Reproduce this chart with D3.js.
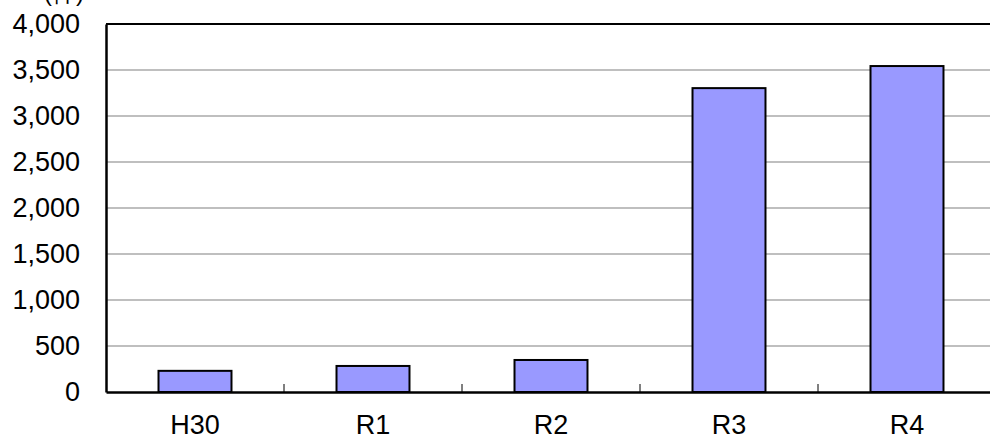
<!DOCTYPE html>
<html>
<head>
<meta charset="utf-8">
<script src="https://cdn.jsdelivr.net/npm/d3@7"></script>
<style>
  body { margin: 0; background: #fff; }
  text { font-family: "Liberation Sans", Arial, sans-serif; fill: #000; }
</style>
</head>
<body>
<div id="chart"></div>
<script>
const categories = ['H30', 'R1', 'R2', 'R3', 'R4'];
const counts = [230, 283, 348, 3303, 3543];
const yTicks = [0, 500, 1000, 1500, 2000, 2500, 3000, 3500, 4000];
const unitLabel = '(件)';

const width = 990, height = 441;
const margin = { top: 24, left: 106, bottom: 49 };
const plotWidth = 890;

const svg = d3.select('#chart').append('svg')
    .attr('width', width)
    .attr('height', height);

const x = d3.scaleBand()
    .domain(categories)
    .range([margin.left, margin.left + plotWidth])
    .paddingInner(0.59)
    .paddingOuter(0.295);

const y = d3.scaleLinear()
    .domain([0, 4000])
    .range([height - margin.bottom, margin.top]);

// gridlines
svg.append('g')
    .selectAll('line')
    .data(yTicks.filter(d => d > 0 && d < 4000))
    .enter().append('line')
    .attr('x1', margin.left).attr('x2', width)
    .attr('y1', d => y(d)).attr('y2', d => y(d))
    .attr('stroke', '#808080')
    .attr('stroke-width', 1.2);

// top border
svg.append('line')
    .attr('x1', margin.left).attr('x2', width)
    .attr('y1', y(4000)).attr('y2', y(4000))
    .attr('stroke', '#000').attr('stroke-width', 2);

// bars
svg.append('g')
    .selectAll('rect')
    .data(counts)
    .enter().append('rect')
    .attr('x', (d, i) => x(categories[i]))
    .attr('y', d => y(d))
    .attr('width', x.bandwidth())
    .attr('height', d => y(0) - y(d))
    .attr('fill', '#9999ff')
    .attr('stroke', '#000')
    .attr('stroke-width', 2);

// y axis
const yAxis = svg.append('g')
    .attr('transform', `translate(${margin.left},0)`)
    .call(d3.axisLeft(y).tickValues(yTicks).tickFormat(d3.format(',')).tickSize(0).tickPadding(26));
yAxis.select('.domain').attr('stroke', '#000').attr('stroke-width', 2.5);
yAxis.selectAll('text').style('font-size', '27px');

// x axis, small ticks between categories
const xAxis = svg.append('g')
    .attr('transform', `translate(0,${y(0)})`)
    .call(d3.axisBottom(x).tickSize(0).tickPadding(23));
xAxis.select('.domain').attr('stroke', '#000').attr('stroke-width', 2.5);
xAxis.selectAll('text').style('font-size', '27px');
xAxis.selectAll('.sep')
    .data(categories.slice(1))
    .enter().append('line')
    .attr('class', 'sep')
    .attr('x1', d => x(d) - (x.step() - x.bandwidth()) / 2)
    .attr('x2', d => x(d) - (x.step() - x.bandwidth()) / 2)
    .attr('y1', 0).attr('y2', -8)
    .attr('stroke', '#000').attr('stroke-width', 1);

// unit label, mostly above the top edge
svg.append('text')
    .attr('x', 64)
    .attr('y', 1)
    .attr('text-anchor', 'middle')
    .style('font-size', '24px')
    .text(unitLabel);
</script>
</body>
</html>
